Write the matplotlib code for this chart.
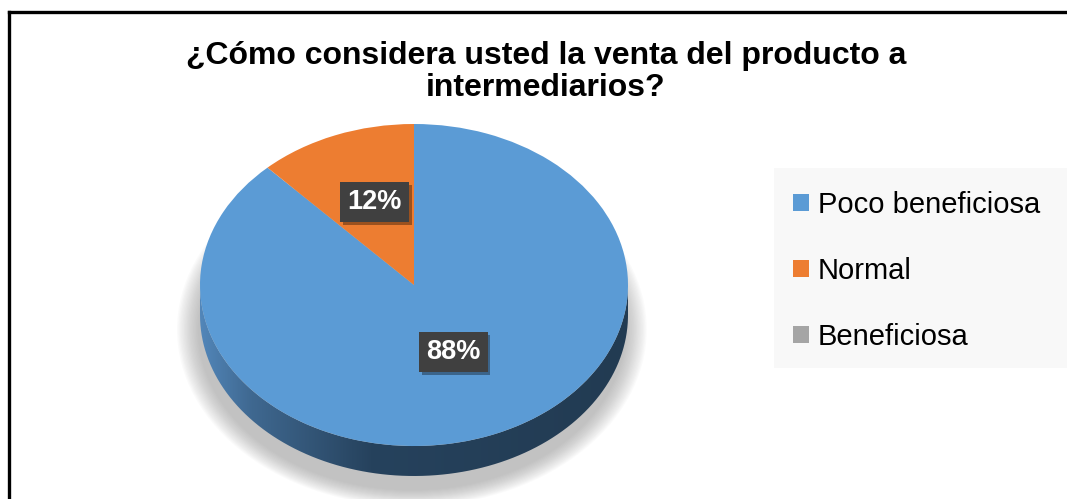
import numpy as np
import matplotlib.pyplot as plt
from matplotlib.patches import Patch, Rectangle, Ellipse, PathPatch
from matplotlib.path import Path
from matplotlib.colors import LinearSegmentedColormap
from matplotlib.lines import Line2D
import matplotlib.patheffects as pe

plt.rcParams['font.family'] = ['Liberation Sans', 'DejaVu Sans']

# data
categories = ["Poco beneficiosa", "Normal", "Beneficiosa"]
values = [88, 12, 0]
colors = ["#5b9bd5", "#ed7d31", "#a5a5a5"]
title = "¿Cómo considera usted la venta del producto a\nintermediarios?"

W, H = 1067, 499
fig = plt.figure(figsize=(W / 100, H / 100), dpi=100)

# outer border (only top and left visible)
fig.add_artist(Line2D([9 / W, 1.01], [1 - 12 / H, 1 - 12 / H], color="black", lw=2.4))
fig.add_artist(Line2D([9 / W, 9 / W], [-0.01, 1 - 12 / H], color="black", lw=2.4))

fig.text(546 / W, 1 - 72 / H, title, ha="center", va="center",
         fontsize=23, fontweight="bold", linespacing=1.12)

# pie geometry (pixels): ellipse centre (414, 285), rx 214, ry 161, depth 30
cx, cy, rx, ry, depth = 414, 285, 214, 161, 30
x0, x1 = -1.1, 1.1
y0, y1 = -1.35, 1.1
ax = fig.add_axes([(cx + x0 * rx) / W, (H - (cy - y0 * ry)) / H,
                   (x1 - x0) * rx / W, (y1 - y0) * ry / H])
ax.set_xlim(x0, x1)
ax.set_ylim(y0, y1)
ax.set_aspect("auto")
ax.axis("off")
d = depth / ry

# soft shadow under the pie
for k in range(16):
    s = 1.0 + 0.0065 * k
    ax.add_patch(Ellipse((-0.01, -d - 0.09), 2 * s, 2 * s, color="#808080",
                         alpha=0.035, lw=0, zorder=1, clip_on=False))

# side wall with horizontal gradient
t = np.linspace(np.pi, 2 * np.pi, 200)
lower = np.column_stack([np.cos(t), np.sin(t) - d])
upper = np.column_stack([np.cos(t[::-1]), np.sin(t[::-1])])
verts = np.vstack([lower, upper, lower[:1]])
side = PathPatch(Path(verts), facecolor="none", lw=0, zorder=2)
ax.add_patch(side)
cmap = LinearSegmentedColormap.from_list(
    "side", [(0, "#5286b9"), (0.12, "#3f6890"), (0.4, "#26425d"), (1, "#223b52")])
grad = np.linspace(0, 1, 256).reshape(1, -1)
im = ax.imshow(grad, cmap=cmap, extent=(-1, 1, -1 - d, 0), aspect="auto", zorder=2)
im.set_clip_path(side)

# top face
wedges, _, autotexts = ax.pie(
    values, colors=colors, startangle=90, counterclock=False, radius=1,
    autopct=lambda p: f"{p:.0f}%" if p > 0 else "", pctdistance=0.5,
    wedgeprops=dict(linewidth=0, zorder=3),
    textprops=dict(color="white", fontsize=19.5, fontweight="bold"))
ax.set_xlim(x0, x1)
ax.set_ylim(y0, y1)
ax.set_aspect("auto")
for w in wedges:
    w.set_zorder(3)
for tx in autotexts:
    if tx.get_text():
        x, y = tx.get_position()
        tx.set_position((x, y + 0.05))
        tx.set_zorder(5)
        tx.set_bbox(dict(boxstyle="square,pad=0.26", facecolor="#404040", edgecolor="none"))
        tx.get_bbox_patch().set_path_effects(
            [pe.withSimplePatchShadow(offset=(2, -2), shadow_rgbFace="black", alpha=0.35),
             pe.Normal()])

# legend panel
fig.add_artist(Rectangle((774 / W, 1 - 368 / H), (W - 774) / W, 200 / H,
                         transform=fig.transFigure, facecolor="#f8f8f8",
                         edgecolor="none", zorder=0))
handles = [Patch(facecolor=c, edgecolor="none") for c in colors]
fig.legend(handles, categories, loc="upper left",
           bbox_to_anchor=(793 / W, 1 - 191 / H), frameon=False,
           fontsize=21, labelspacing=1.3, handlelength=0.55, handleheight=0.55,
           handletextpad=0.3, borderpad=0, borderaxespad=0)

fig.savefig("out.png", dpi=100)
